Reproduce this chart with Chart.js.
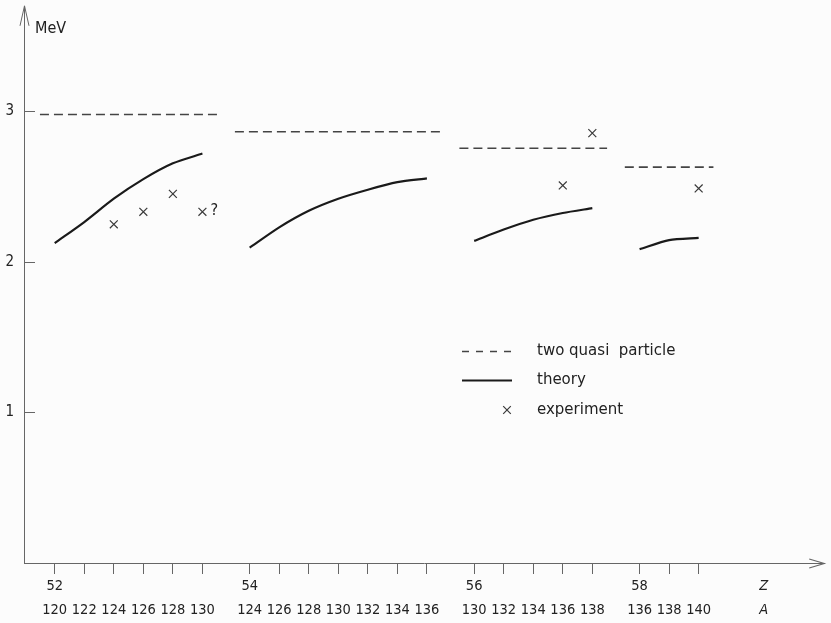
<!DOCTYPE html>
<html>
<head>
<meta charset="utf-8">
<script src="https://cdn.jsdelivr.net/npm/chart.js@4/dist/chart.umd.min.js"></script>
<style>
  html, body { margin: 0; padding: 0; background: #fcfcfc; }
  #wrap { width: 831px; height: 623px; }
</style>
</head>
<body>
<div id="wrap"><canvas id="c" width="831" height="623"></canvas></div>
<script>
// Proton number of each isotope chain
const zValues = [52, 54, 56, 58];
// Mass numbers shown for each chain
const massNumbers = [
  [120, 122, 124, 126, 128, 130],
  [124, 126, 128, 130, 132, 134, 136],
  [130, 132, 134, 136, 138],
  [136, 138, 140]
];
// Two-quasi-particle energy for each chain (MeV)
const twoQuasi = [2.98, 2.865, 2.755, 2.63];
// Calculated energies (MeV), one value per mass number
const theory = [
  [2.125, 2.265, 2.42, 2.55, 2.655, 2.72],
  [2.095, 2.23, 2.34, 2.42, 2.48, 2.53, 2.555],
  [2.14, 2.215, 2.28, 2.325, 2.357],
  [2.085, 2.145, 2.16]
];
// Measured energies: [mass number, MeV, uncertain?]
const experiment = [
  [[124, 2.25, false], [126, 2.333, false], [128, 2.452, false], [130, 2.333, true]],
  [],
  [[136, 2.508, false], [138, 2.856, false]],
  [[140, 2.488, false]]
];
const yTickValues = [1, 2, 3];
const axisNames = ['Z', 'A'];

// ---- horizontal layout: one slot per tick, a wider gap between chains ----
const chainGap = 1.6;
const chainStart = [];
massNumbers.reduce((pos, list, i) => {
  chainStart[i] = pos;
  return pos + (list.length - 1) + chainGap;
}, 0);
const slot = (g, a) => chainStart[g] + (a - massNumbers[g][0]) / 2;
const axisNameSlot = 24.0;

// tick positions and their two-row labels
const xTicks = [];
const xTickLabels = [];
massNumbers.forEach((list, g) => {
  list.forEach((a, k) => {
    xTicks.push(slot(g, a));
    xTickLabels.push([k === 0 ? String(zValues[g]) : '', String(a)]);
  });
});
xTicks.push(axisNameSlot);
xTickLabels.push(axisNames);
const nameTickIndex = xTicks.length - 1;

const ink = '#222';
const axisInk = '#666';
const tickFamily = "'Liberation Sans Narrow', 'DejaVu Sans Condensed', 'Liberation Sans', sans-serif";
const textFamily = "'DejaVu Sans', sans-serif";

// ---- datasets ----
const datasets = [];
massNumbers.forEach((list, g) => {
  const first = list[0], last = list[list.length - 1];
  datasets.push({
    label: 'two quasi particle',
    data: [{ x: slot(g, first - 1), y: twoQuasi[g] }, { x: slot(g, last + 1), y: twoQuasi[g] }],
    borderColor: '#444', borderWidth: 1.6, borderDash: [9, 5],
    pointRadius: 0, fill: false
  });
  datasets.push({
    label: 'theory',
    data: list.map((a, k) => ({ x: slot(g, a), y: theory[g][k] })),
    borderColor: '#1a1a1a', borderWidth: 2.2, tension: 0.25,
    pointRadius: 0, fill: false
  });
  if (experiment[g].length) {
    datasets.push({
      label: 'experiment',
      data: experiment[g].map(([a, e, q]) => ({ x: slot(g, a), y: e, uncertain: q })),
      showLine: false,
      pointStyle: 'crossRot', pointRadius: 5.6,
      pointBorderWidth: 1.2, pointBorderColor: '#3a3a3a', pointBackgroundColor: '#3a3a3a'
    });
  }
});

// ---- decorations: inside y ticks, axis arrows, unit, legend, "?" mark ----
const decorations = {
  id: 'decorations',
  afterDraw(chart) {
    const { ctx, chartArea: ca, scales: { y } } = chart;
    ctx.save();
    ctx.strokeStyle = axisInk;
    ctx.lineWidth = 1;
    // y ticks pointing into the plot
    yTickValues.forEach(v => {
      const py = Math.round(y.getPixelForValue(v)) + 0.5;
      ctx.beginPath();
      ctx.moveTo(ca.left, py);
      ctx.lineTo(ca.left + 11, py);
      ctx.stroke();
    });
    // arrow heads
    const ax = Math.round(ca.left) + 0.5;
    ctx.beginPath();
    ctx.moveTo(ax - 4.5, ca.top + 19);
    ctx.lineTo(ax, ca.top - 1);
    ctx.lineTo(ax + 4.5, ca.top + 19);
    ctx.stroke();
    const ay = Math.round(ca.bottom) + 0.5;
    ctx.lineWidth = 1.2;
    ctx.beginPath();
    ctx.moveTo(ca.right - 15, ay - 4.5);
    ctx.lineTo(ca.right, ay);
    ctx.lineTo(ca.right - 15, ay + 4.5);
    ctx.stroke();

    // unit
    ctx.fillStyle = ink;
    ctx.font = '16px ' + tickFamily;
    ctx.textBaseline = 'middle';
    ctx.textAlign = 'left';
    ctx.fillText('MeV', ca.left + 11, 29);

    // question mark beside the uncertain measurement
    chart.data.datasets.forEach((ds, i) => {
      if (ds.label !== 'experiment') return;
      const meta = chart.getDatasetMeta(i);
      ds.data.forEach((p, k) => {
        if (!p.uncertain) return;
        const el = meta.data[k];
        ctx.font = '16px ' + tickFamily;
        ctx.fillText('?', el.x + 8, el.y - 1);
      });
    });

    // legend
    const lx0 = 462, lx1 = 512, tx = 537;
    const rows = [351.5, 380.5, 410];
    ctx.strokeStyle = '#444';
    ctx.lineWidth = 1.5;
    ctx.setLineDash([7, 7]);
    ctx.beginPath();
    ctx.moveTo(lx0, rows[0]); ctx.lineTo(lx1 + 4, rows[0]);
    ctx.stroke();
    ctx.setLineDash([]);
    ctx.strokeStyle = '#1a1a1a';
    ctx.lineWidth = 2.2;
    ctx.beginPath();
    ctx.moveTo(lx0, rows[1]); ctx.lineTo(lx1, rows[1]);
    ctx.stroke();
    ctx.strokeStyle = '#3a3a3a';
    ctx.lineWidth = 1.2;
    const cx = 507, cy = rows[2], r = 3.8;
    ctx.beginPath();
    ctx.moveTo(cx - r, cy - r); ctx.lineTo(cx + r, cy + r);
    ctx.moveTo(cx - r, cy + r); ctx.lineTo(cx + r, cy - r);
    ctx.stroke();
    ctx.fillStyle = ink;
    ctx.font = '15px ' + textFamily;
    ctx.fillText('two quasi  particle', tx, rows[0]);
    ctx.fillText('theory', tx, rows[1]);
    ctx.fillText('experiment', tx, rows[2]);
    ctx.restore();
  }
};

new Chart(document.getElementById('c'), {
  type: 'line',
  data: { datasets },
  plugins: [decorations],
  options: {
    responsive: false,
    devicePixelRatio: 1,
    animation: false,
    layout: { padding: { top: 5, right: 1, left: 0, bottom: 0 } },
    plugins: { legend: { display: false }, tooltip: { enabled: false } },
    scales: {
      x: {
        type: 'linear',
        position: 'bottom',
        min: -1.04,
        max: 26.05,
        afterFit: s => { s.height = 60; s.paddingLeft = 0; s.paddingRight = 0; },
        afterBuildTicks: s => { s.ticks = xTicks.map(v => ({ value: v })); },
        border: { display: true, color: axisInk, width: 1 },
        grid: {
          drawOnChartArea: false,
          drawTicks: true,
          tickLength: 11,
          tickWidth: 1,
          tickColor: c => (c.index === nameTickIndex ? 'rgba(0,0,0,0)' : axisInk)
        },
        ticks: {
          autoSkip: false,
          maxRotation: 0,
          minRotation: 0,
          padding: 0,
          color: ink,
          font: c => ({
            family: tickFamily,
            size: 14.5,
            lineHeight: 1.65,
            style: c.index === nameTickIndex ? 'italic' : 'normal'
          }),
          callback: (v, i) => xTickLabels[i]
        }
      },
      y: {
        type: 'linear',
        min: 0,
        max: 3.695,
        afterFit: s => { s.width = 24; s.paddingTop = 0; s.paddingBottom = 0; },
        afterBuildTicks: s => { s.ticks = yTickValues.map(v => ({ value: v })); },
        border: { display: true, color: axisInk, width: 1 },
        grid: { drawOnChartArea: false, drawTicks: false },
        ticks: {
          padding: 10,
          color: ink,
          font: { family: tickFamily, size: 15 },
          callback: v => String(v)
        }
      }
    }
  }
});
</script>
</body>
</html>
